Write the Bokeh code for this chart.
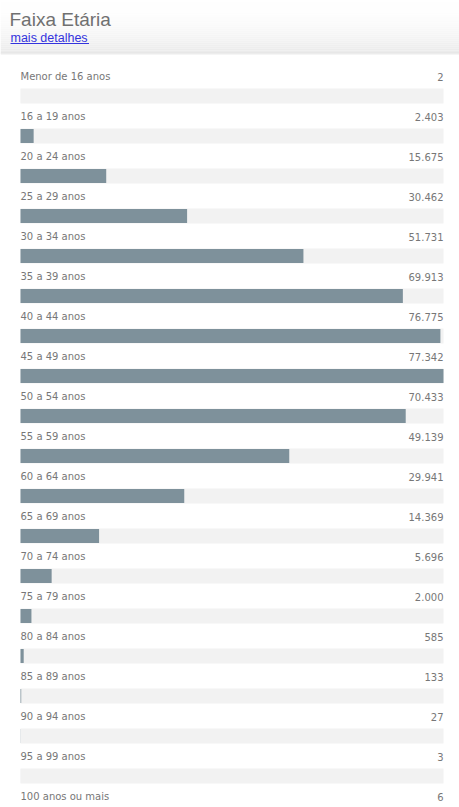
from bokeh.plotting import figure
from bokeh.models import Range1d, ColumnDataSource
from bokeh.core.properties import value
from bokeh.embed import file_html
from bokeh.resources import INLINE

title = "Faixa Etária"
link_text = "mais detalhes"
categories = ["Menor de 16 anos", "16 a 19 anos", "20 a 24 anos", "25 a 29 anos",
              "30 a 34 anos", "35 a 39 anos", "40 a 44 anos", "45 a 49 anos",
              "50 a 54 anos", "55 a 59 anos", "60 a 64 anos", "65 a 69 anos",
              "70 a 74 anos", "75 a 79 anos", "80 a 84 anos", "85 a 89 anos",
              "90 a 94 anos", "95 a 99 anos", "100 anos ou mais"]
counts = [2, 2403, 15675, 30462, 51731, 69913, 76775, 77342, 70433, 49139,
          29941, 14369, 5696, 2000, 585, 133, 27, 3, 6]

W, H = 459, 807
vmax = max(counts)
px = vmax / 423.0  # value units per pixel
rows = list(range(len(categories)))

p = figure(width=W, height=H, output_backend="svg", toolbar_location=None,
           x_range=Range1d(-20 * px, (W - 20) * px),
           y_range=Range1d((H - 95.5) / 40.0, -95.5 / 40.0),
           min_border=0, outline_line_color=None)
p.axis.visible = False
p.grid.visible = False
p.background_fill_color = "white"
p.border_fill_color = "white"
p.extra_x_ranges = {"px": Range1d(0, W)}
p.extra_y_ranges = {"px": Range1d(H, 0)}

# header gradient
n = 26
tops = [i * 2 for i in range(n)]
bots = [i * 2 + 2 for i in range(n)]
cols = []
for i in range(n):
    t = i / (n - 1)
    g = int(255 - 20 * t * t)
    cols.append("#%02x%02x%02x" % (g, g, g))
p.quad(left=0, right=W, top=tops, bottom=bots, fill_color=cols, line_color=None,
       x_range_name="px", y_range_name="px")
p.segment(x0=[0], x1=[W], y0=[52.5], y1=[52.5], line_color="#d8d8d8", line_width=1,
          x_range_name="px", y_range_name="px")
p.segment(x0=[0], x1=[W], y0=[53.5], y1=[53.5], line_color="#ececec", line_width=1,
          x_range_name="px", y_range_name="px")

p.text(x=[9], y=[19], text=[title], text_font=value("Liberation Sans"),
       text_font_size="19px", text_color="#707070", text_baseline="middle",
       x_range_name="px", y_range_name="px")
p.text(x=[10], y=[37], text=[link_text], text_font=value("Liberation Sans"),
       text_font_size="12.5px", text_color="#3333dd", text_baseline="middle",
       x_range_name="px", y_range_name="px")
p.segment(x0=[10], x1=[88.5], y0=[43], y1=[43], line_color="#3333dd", line_width=1,
          x_range_name="px", y_range_name="px")

src = ColumnDataSource(dict(
    y=rows,
    ly=[r - 0.4875 for r in rows],
    v=counts,
    vmax=[vmax] * len(rows),
    cat=categories,
    lab=[f"{c:,}".replace(",", ".") for c in counts],
))

# tracks
p.hbar(y="y", left=0, right="vmax", height=0.375, source=src,
       fill_color="#f2f2f2", line_color=None)
# bars
p.hbar(y="y", left=0, right="v", height=0.35, source=src,
       fill_color="#7e919b", line_color=None)

p.text(x=0, y="ly", text="cat", source=src, text_font=value("DejaVu Sans"),
       text_font_size="10px", text_color="#777777", text_baseline="middle")
p.text(x="vmax", y="ly", text="lab", source=src, text_font=value("DejaVu Sans"),
       text_font_size="10px", text_color="#777777", text_baseline="middle",
       text_align="right")

open("out.html", "w").write(file_html(p, INLINE))
